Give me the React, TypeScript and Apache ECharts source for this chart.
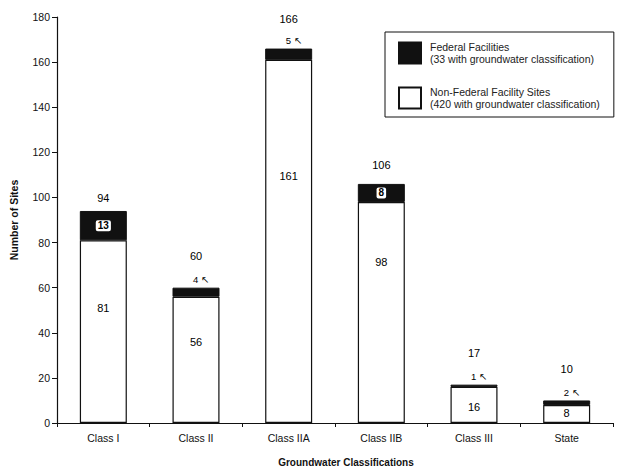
import React, { useEffect, useRef } from "react";
import * as echarts from "echarts";

const categories = ["Class I", "Class II", "Class IIA", "Class IIB", "Class III", "State"];
const nonFederal = [81, 56, 161, 98, 16, 8];
const federal = [13, 4, 5, 8, 1, 2];
const totals = [94, 60, 166, 106, 17, 10];
const yMin = 0;
const yMax = 180;
const yInterval = 20;

const seriesNames = ["Federal Facilities", "Non-Federal Facility Sites"];
const legendNotes = ["(33 with groundwater classification)", "(420 with groundwater classification)"];

// style-only arrays (label placement)
const federalInside = [true, false, false, true, false, false];
const nonFedLabelY = ["37%", "36%", "32%", "27%", "55%", "45%"];
const totalDistance = [7, 26, 24, 13, 26, 26];

const FONT = "'Liberation Sans', Arial, Helvetica, sans-serif";
const INK = "#111";

export default function App() {
  const ref = useRef<HTMLDivElement>(null);

  useEffect(() => {
    if (!ref.current) return;
    const chart = echarts.init(ref.current, undefined, { renderer: "svg" });

    const option: any = {
      animation: false,
      backgroundColor: "#fff",
      textStyle: { fontFamily: FONT, color: INK },
      grid: { left: 55, right: 4, top: 17, bottom: 48, containLabel: false },
      legend: {
        orient: "vertical",
        left: 385,
        top: 32,
        padding: [9, 14, 7, 13],
        itemWidth: 22,
        itemHeight: 21,
        itemGap: 21,
        borderColor: INK,
        borderWidth: 1,
        borderRadius: 0,
        selectedMode: false,
        data: [
          { name: seriesNames[0], icon: "rect" },
          { name: seriesNames[1], icon: "rect" },
        ],
        formatter: (name: string) => {
          const i = seriesNames.indexOf(name);
          return name + "\n" + legendNotes[i];
        },
        textStyle: { fontFamily: FONT, fontSize: 10.5, lineHeight: 12, color: "#222", padding: [0, 0, 0, 4] },
      },
      xAxis: {
        type: "category",
        data: categories,
        axisLine: { show: true, lineStyle: { color: INK, width: 1.2 } },
        axisTick: { show: true, length: 4, alignWithLabel: false, lineStyle: { color: INK } },
        axisLabel: { color: INK, fontSize: 10.5, margin: 9, fontFamily: FONT },
        splitLine: { show: false },
      },
      yAxis: {
        type: "value",
        min: yMin,
        max: yMax,
        interval: yInterval,
        name: "Number of Sites",
        nameLocation: "middle",
        nameGap: 38,
        nameRotate: 90,
        nameTextStyle: { color: INK, fontSize: 10.5, fontWeight: "bold", fontFamily: FONT },
        axisLine: { show: true, lineStyle: { color: INK, width: 1.2 } },
        axisTick: { show: true, length: 5, inside: false, lineStyle: { color: INK } },
        axisLabel: { color: INK, fontSize: 10.5, margin: 7, fontFamily: FONT },
        splitLine: { show: false },
      },
      series: [
        {
          name: seriesNames[1],
          type: "bar",
          stack: "total",
          barWidth: 47,
          itemStyle: { color: "#fff", borderColor: INK, borderWidth: 1.2 },
          data: nonFederal.map((v, i) => ({
            value: v,
            label: { position: ["50%", nonFedLabelY[i]] },
          })),
          label: {
            show: true,
            align: "center",
            verticalAlign: "middle",
            color: "#000",
            fontSize: 11,
            fontFamily: FONT,
          },
        },
        {
          name: seriesNames[0],
          type: "bar",
          stack: "total",
          barWidth: 47,
          itemStyle: { color: INK, borderColor: INK, borderWidth: 1 },
          data: federal.map((v, i) =>
            federalInside[i]
              ? {
                  value: v,
                  label: {
                    position: "inside",
                    color: "#000",
                    backgroundColor: "#fff",
                    padding: [1, 2, 0, 2],
                    borderRadius: 2,
                    fontSize: 10,
                    fontWeight: "bold",
                  },
                }
              : {
                  value: v,
                  label: { position: "top", distance: 3, offset: [5, 0], fontSize: 9.5, color: "#000" },
                }
          ),
          label: {
            show: true,
            fontFamily: FONT,
            formatter: (p: any) => (federalInside[p.dataIndex] ? String(p.value) : p.value + " \u2196"),
          },
        },
        {
          name: "Total",
          type: "scatter",
          symbolSize: 0,
          silent: true,
          itemStyle: { color: "#fff", opacity: 1 },
          data: totals.map((v, i) => ({
            value: v,
            label: { distance: totalDistance[i], color: "#000" },
          })),
          label: {
            show: true,
            position: "top",
            color: "#000",
            fontSize: 11,
            fontFamily: FONT,
          },
        },
      ],
      graphic: [
        {
          type: "text",
          x: 346,
          y: 462,
          style: {
            text: "Groundwater Classifications",
            textAlign: "center",
            textVerticalAlign: "middle",
            font: "bold 10px 'Liberation Sans', Arial, sans-serif",
            fill: INK,
          },
        },
      ],
    };

    chart.setOption(option);
    return () => chart.dispose();
  }, []);

  return (
    <div
      ref={ref}
      style={{ position: "fixed", left: 0, top: 0, width: 617, height: 471, background: "#fff" }}
    />
  );
}
